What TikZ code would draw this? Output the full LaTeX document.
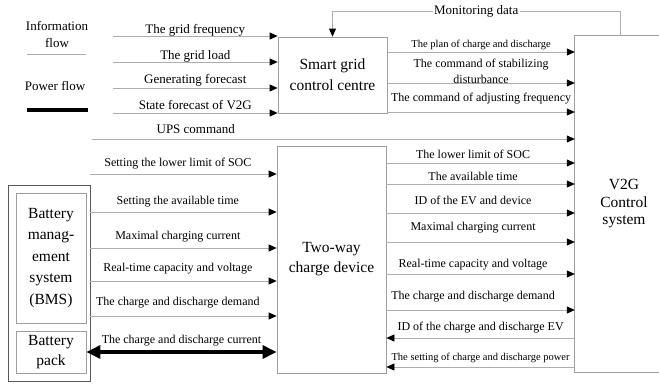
\documentclass[tikz,border=0pt]{standalone}
\usepackage{fontspec}
\setmainfont{Liberation Serif}
\usetikzlibrary{arrows.meta}
\definecolor{linegray}{gray}{0.68}
\definecolor{boxgray}{gray}{0.62}
\definecolor{framegray}{gray}{0.35}

\begin{document}
\begin{tikzpicture}[x=1pt,y=-1pt,
    info/.style={draw=linegray, line width=0.8pt, -{Triangle[length=8pt,width=7pt,color=black]}},
    power/.style={draw=black, line width=3.2pt, {Triangle[length=14pt,width=13pt]}-{Triangle[length=14pt,width=13pt]}},
    box/.style={draw=boxgray, line width=0.8pt, inner sep=0pt, align=center},
    lbl/.style={font=\fontsize{12}{14}\selectfont, inner sep=0pt, anchor=base},
    lblbig/.style={font=\fontsize{13}{17}\selectfont, inner sep=0pt, anchor=base},
    lblsmall/.style={font=\fontsize{10.5}{12}\selectfont, inner sep=0pt, anchor=base},
    big/.style={font=\fontsize{15.5}{21}\selectfont}]
  \useasboundingbox (0,0) rectangle (659,386);

  %%%%% legend %%%%%
  \node[font=\fontsize{13}{17}\selectfont, align=center] (leginfo) at (57,34) {Information\\flow};
  \draw[linegray, line width=0.8pt] (27,54) -- (86,54);
  \node[font=\fontsize{13}{17}\selectfont] (legpower) at (55,86) {Power flow};
  \draw[black, line width=3.5pt] (27,110) -- (88,110);

  %%%%% boxes %%%%%
  \node[box, big, minimum width=109, minimum height=76] (sg) at (332.5,75) {Smart grid\\control centre};
  \node[box, big, font=\fontsize{15.5}{20}\selectfont, minimum width=109, minimum height=227] (twoway) at (331.5,259.5) {Two-way\\charge device};
  \node[big, align=center, font=\fontsize{15.5}{17.5}\selectfont, minimum width=98, minimum height=336, inner sep=0pt] (v2g) at (624,204) {V2G\\Control\\system};
  \draw[boxgray, line width=0.8pt] (v2g.north east) -- (v2g.north west) -- (v2g.south west) -- (v2g.south east);

  \node[draw=framegray, line width=0.6pt, minimum width=82, minimum height=196] (outer) at (49,283) {};
  \node[box, big, font=\fontsize{15.5}{21.5}\selectfont, minimum width=70, minimum height=130] (bms) at (51,258) {Battery\\manag-\\ement\\system\\(BMS)};
  \node[box, big, font=\fontsize{15.5}{20}\selectfont, minimum width=70, minimum height=42] (pack) at (51,352) {Battery\\pack};

  %%%%% inputs of the smart grid control centre %%%%%
  \foreach \yy/\dy/\txt [count=\i] in {36/3/The grid frequency, 62/3/The grid load,
      88/5/Generating forecast, 113/4/State forecast of V2G}{
    \coordinate (gin\i) at (113,\yy);
    \draw[info] (gin\i) -- (gin\i -| sg.west) node[midway, lblbig, yshift=\dy pt] {\txt};
  }
  \coordinate (ups) at (92,139);
  \draw[info] (ups) -- (ups -| v2g.west) node[pos=.215, lblbig, yshift=6pt] {UPS command};

  \coordinate (mon) at (620,11);
  \draw[info] (v2g.north -| mon) -- (mon) -- node[fill=white, inner sep=1.5pt, font=\fontsize{13}{15}\selectfont] (monlbl) {Monitoring data} (mon -| sg.north) -- (sg.north);

  %%%%% smart grid -> V2G %%%%%
  \draw[info] (sg.east |- 0,52) -- (v2g.west |- 0,52) node[midway, lblsmall, yshift=5pt] {The plan of charge and discharge};
  \draw[info] (sg.east |- 0,83) -- (v2g.west |- 0,83) node[midway, font=\fontsize{12}{16}\selectfont, align=center, anchor=south, yshift=-1pt, inner sep=0pt] {The command of stabilizing\\disturbance};
  \draw[info] (sg.east |- 0,112) -- (v2g.west |- 0,112) node[midway, lbl, yshift=11pt] {The command of adjusting frequency};

  %%%%% two-way device -> V2G %%%%%
  \foreach \yy/\dy/\txt in {163/5/The lower limit of SOC, 184/4/The available time,
      213/9/ID of the EV and device, 242/12/Maximal charging current,
      274/7/Real-time capacity and voltage, 310/11/The charge and discharge demand}{
    \draw[info] (twoway.east |- 0,\yy) -- (v2g.west |- 0,\yy) node[pos=.46, lbl, yshift=\dy pt] {\txt};
  }
  \draw[info] (v2g.west |- 0,338) -- (twoway.east |- 0,338) node[midway, lbl, yshift=8pt] {ID of the charge and discharge EV};
  \draw[info] (v2g.west |- 0,367) -- (twoway.east |- 0,367) node[midway, lblsmall, yshift=6.5pt] {The setting of charge and discharge power};

  %%%%% BMS -> two-way device %%%%%
  \foreach \yy/\dy/\txt in {174/8/Setting the lower limit of SOC, 212/8/Setting the available time,
      248/9/Maximal charging current, 281/10/Real-time capacity and voltage,
      316/10.5/The charge and discharge demand}{
    \draw[info] (outer.east |- 0,\yy) -- (twoway.west |- 0,\yy) node[pos=.47, lbl, yshift=\dy pt] {\txt};
  }
  \draw[power] (pack.east |- 0,352) -- (twoway.west |- 0,352) node[midway, lbl, yshift=9pt] {The charge and discharge current};
\end{tikzpicture}
\end{document}
